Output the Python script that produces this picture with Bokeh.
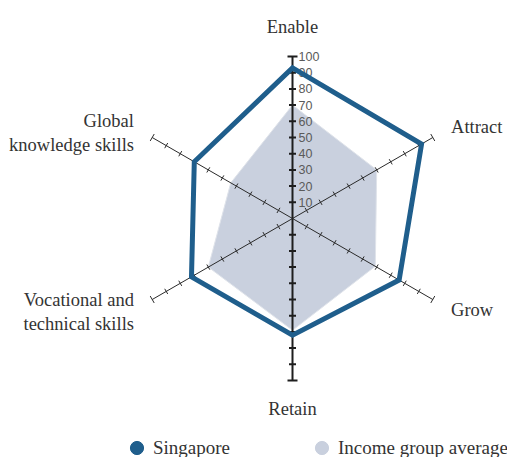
import numpy as np
from bokeh.plotting import figure
from bokeh.models import ColumnDataSource, Range1d, Legend, LegendItem
from bokeh.embed import file_html
from bokeh.resources import INLINE
from bokeh.core.properties import value

# ---- data ----
axis_labels = ["Enable", "Attract", "Grow", "Retain",
               "Vocational and\ntechnical skills", "Global\nknowledge skills"]
axis_angles_deg = [90, 30, -30, -90, -150, 150]
singapore = [93, 92, 76, 72, 72, 70]
income_avg = [70, 60, 59, 69, 60, 44]
series_names = ["Singapore", "Income group average"]
tick_values = [10, 20, 30, 40, 50, 60, 70, 80, 90, 100]
tick_labels = ["10", "20", "30", "40", "50", "60", "70", "80", "90", "100"]
max_value = 100

# ---- styling ----
BLUE = "#1f5e8c"
GREY = "#c9d0de"
AXIS = "#2a2a2a"
W, H = 507, 457
PX = 1.62             # pixels per unit
CX, CY = 292, 218     # center of radar in figure pixels (from left / top)
label_dy = [1, 0, 0, -2, 2, 6]   # small pixel nudges for axis labels

p = figure(width=W, height=H, output_backend="svg", toolbar_location=None,
           x_range=Range1d(-CX / PX, (W - CX) / PX),
           y_range=Range1d(-(H - CY) / PX, CY / PX),
           min_border=0, outline_line_color=None)
p.axis.visible = False
p.grid.visible = False
p.background_fill_color = "white"

ang = np.deg2rad(axis_angles_deg)
ca, sa = np.cos(ang), np.sin(ang)

# income group average polygon
sv = np.array(income_avg, dtype=float)
p.patch(sv * ca, sv * sa, fill_color=GREY, fill_alpha=1.0,
        line_color="#dfe3ea", line_width=1)

# axes lines
vert = [i for i, a in enumerate(axis_angles_deg) if abs(a) == 90]
diag = [i for i in range(len(axis_angles_deg)) if i not in vert]
p.segment(x0=[0] * len(diag), y0=[0] * len(diag),
          x1=[max_value * ca[i] for i in diag], y1=[max_value * sa[i] for i in diag],
          line_color=AXIS, line_width=1)
p.segment(x0=[0] * len(vert), y0=[0] * len(vert),
          x1=[max_value * ca[i] for i in vert], y1=[max_value * sa[i] for i in vert],
          line_color="#1e1e1e", line_width=2)

# ticks
tv = np.array(tick_values, dtype=float)
for i in range(len(axis_angles_deg)):
    is_v = i in vert
    half = np.where(tv == max_value, (5.0 if is_v else 4.0), (3.5 if is_v else 3.0)) / PX
    px_, py_ = -sa[i], ca[i]
    bx, by = tv * ca[i], tv * sa[i]
    p.segment(x0=bx - half * px_, y0=by - half * py_,
              x1=bx + half * px_, y1=by + half * py_,
              line_color="#1e1e1e" if is_v else AXIS,
              line_width=2 if is_v else 1)

# tick labels on the Enable axis
p.text(x=[0] * len(tick_values), y=tv, text=tick_labels,
       x_offset=6, text_align="left", text_baseline="middle",
       text_font=value("Liberation Sans"), text_font_size="12.5px",
       text_color="#5a5a5a")

# singapore outline
s = np.array(singapore, dtype=float)
p.patch(s * ca, s * sa, fill_color=None, line_color=BLUE,
        line_width=5, line_join="miter")

# axis labels
lab_r = np.array([119 if i in vert else 113 for i in range(len(axis_angles_deg))])
aligns = ["center" if i in vert else ("left" if ca[i] > 0 else "right")
          for i in range(len(axis_angles_deg))]
lab_src = ColumnDataSource(dict(x=lab_r * ca, y=lab_r * sa, text=axis_labels,
                                align=aligns, dy=label_dy))
p.text(x="x", y="y", text="text", text_align="align", y_offset="dy", source=lab_src,
       text_baseline="middle", text_font=value("Liberation Serif"),
       text_font_size="18.5px", text_color="#333333", text_line_height=1.2)

# legend (marker-only renderers with off-canvas NaN point)
leg_s = p.scatter(x=[np.nan], y=[np.nan], marker="circle", fill_color=BLUE, line_color=BLUE)
leg_i = p.scatter(x=[np.nan], y=[np.nan], marker="circle", fill_color=GREY, line_color=GREY)
legend = Legend(items=[LegendItem(label=series_names[0], renderers=[leg_s]),
                       LegendItem(label=series_names[1], renderers=[leg_i])],
                orientation="horizontal", location=(120, -7),
                glyph_width=33, glyph_height=33, label_standoff=0,
                spacing=75, padding=0, margin=0,
                border_line_color=None, background_fill_alpha=0,
                label_text_font="Liberation Serif", label_text_font_size="19px",
                label_text_color="#333333")
p.add_layout(legend)

open("out.html", "w").write(file_html(p, INLINE))
